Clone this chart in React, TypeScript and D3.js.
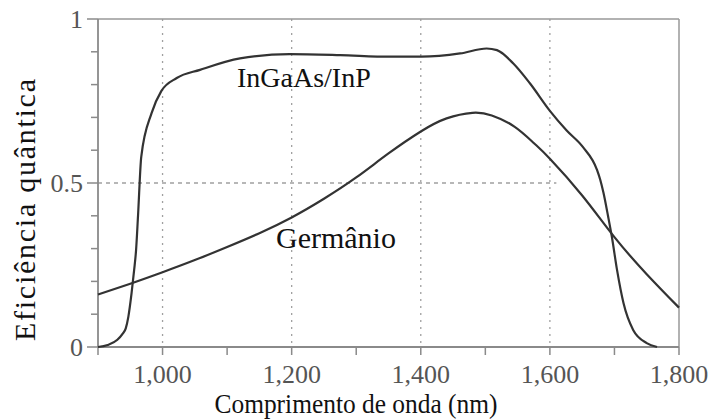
import React from "react";
import * as d3 from "d3";

const ingaasWl = [900, 915, 930, 938, 943, 947, 952, 956, 959, 962, 967, 983, 998, 1022, 1058, 1120, 1197, 1275, 1352, 1401, 1461, 1502, 1518, 1543, 1569, 1600, 1626, 1651, 1673, 1678, 1683, 1690, 1696, 1704, 1714, 1729, 1750, 1766];
const ingaasQe = [0, 0.006, 0.022, 0.04, 0.057, 0.092, 0.164, 0.235, 0.296, 0.4, 0.58, 0.713, 0.78, 0.82, 0.845, 0.88, 0.893, 0.89, 0.885, 0.885, 0.895, 0.91, 0.905, 0.865, 0.804, 0.72, 0.66, 0.61, 0.54, 0.51, 0.47, 0.4, 0.336, 0.235, 0.134, 0.052, 0.012, 0];

const geWl = [900, 950, 1000, 1050, 1100, 1150, 1200, 1250, 1300, 1350, 1400, 1440, 1480, 1510, 1545, 1575, 1600, 1650, 1700, 1750, 1800];
const geQe = [0.16, 0.193, 0.228, 0.265, 0.305, 0.347, 0.395, 0.452, 0.517, 0.59, 0.657, 0.697, 0.714, 0.706, 0.672, 0.622, 0.574, 0.462, 0.335, 0.222, 0.12];

const xTicks = [900, 1000, 1100, 1200, 1300, 1400, 1500, 1600, 1700, 1800];
const xLabels = [1000, 1200, 1400, 1600, 1800];
const xGrid = [1000, 1200, 1400, 1600];
const yTicks = [0, 0.1, 0.2, 0.3, 0.4, 0.5, 0.6, 0.7, 0.8, 0.9, 1];
const yLabels = [0, 0.5, 1];

const seriesNames = ["InGaAs/InP", "Germânio"];
const xTitle = "Comprimento de onda (nm)";
const yTitle = "Eficiência quântica";

export default function App() {
  const W = 712, H = 419;
  const left = 98, right = 679, top = 19, bottom = 347;
  const x = d3.scaleLinear().domain([900, 1800]).range([left, right]);
  const y = d3.scaleLinear().domain([0, 1]).range([bottom, top]);
  const lineMono = d3
    .line<[number, number]>()
    .x((d) => x(d[0]))
    .y((d) => y(d[1]))
    .curve(d3.curveMonotoneX);
  const lineSmooth = d3
    .line<[number, number]>()
    .x((d) => x(d[0]))
    .y((d) => y(d[1]))
    .curve(d3.curveNatural);
  const inga = ingaasWl.map((w, i) => [w, ingaasQe[i]] as [number, number]);
  const ge = geWl.map((w, i) => [w, geQe[i]] as [number, number]);
  const serif = { fontFamily: "'Liberation Serif', 'Times New Roman', Times, serif" };
  const axisColor = "#8a8a8a";
  const fmt = d3.format(",");

  return (
    <svg width={W} height={H} style={{ position: "fixed", left: 0, top: 0, background: "#fff" }}>
      <rect x={0} y={0} width={W} height={H} fill="#fff" />
      {xGrid.map((v) => (
        <line key={"g" + v} x1={x(v)} x2={x(v)} y1={top} y2={bottom} stroke="#a0a0a0" strokeWidth={1.3} strokeDasharray="2,5" />
      ))}
      <line x1={left} x2={x(1610)} y1={y(0.5)} y2={y(0.5)} stroke="#a0a0a0" strokeWidth={1.3} strokeDasharray="4,4" />
      <line x1={left} x2={right} y1={top} y2={top} stroke="#999" strokeWidth={1.5} />
      <line x1={right} x2={right} y1={top} y2={bottom} stroke="#999" strokeWidth={1.5} />
      <line x1={left} x2={left} y1={top} y2={bottom} stroke={axisColor} strokeWidth={1.8} />
      <line x1={left} x2={right} y1={bottom} y2={bottom} stroke={axisColor} strokeWidth={1.8} />
      {xTicks.map((v) => (
        <line key={"xt" + v} x1={x(v)} x2={x(v)} y1={bottom} y2={bottom + 8} stroke={axisColor} strokeWidth={1.5} />
      ))}
      {yTicks.map((v) => {
        const major = yLabels.some((l) => Math.abs(l - v) < 1e-9);
        return (
          <line key={"yt" + v} x1={left - (major ? 11 : 7)} x2={left} y1={y(v)} y2={y(v)} stroke={axisColor} strokeWidth={1.5} />
        );
      })}
      {xLabels.map((v) => (
        <text key={"xl" + v} x={x(v)} y={383} textAnchor="middle" fontSize={26} fill="#555" style={serif}>
          {fmt(v)}
        </text>
      ))}
      {yLabels.map((v) => (
        <text key={"yl" + v} x={83} y={y(v) + 9} textAnchor="end" fontSize={26} fill="#555" style={serif}>
          {String(v)}
        </text>
      ))}
      <path d={lineMono(inga) || ""} fill="none" stroke="#333" strokeWidth={2.2} />
      <path d={lineSmooth(ge) || ""} fill="none" stroke="#333" strokeWidth={2.2} />
      <text x={237} y={87} fontSize={28} fill="#111" style={serif}>{seriesNames[0]}</text>
      <text x={276} y={248} fontSize={30} fill="#111" style={serif}>{seriesNames[1]}</text>
      <text x={356} y={413} textAnchor="middle" fontSize={27} textLength={283} lengthAdjust="spacingAndGlyphs" fill="#111" style={serif}>{xTitle}</text>
      <text transform={`translate(35,210) rotate(-90)`} textAnchor="middle" fontSize={30} textLength={262} lengthAdjust="spacing" fill="#111" style={serif}>{yTitle}</text>
    </svg>
  );
}
